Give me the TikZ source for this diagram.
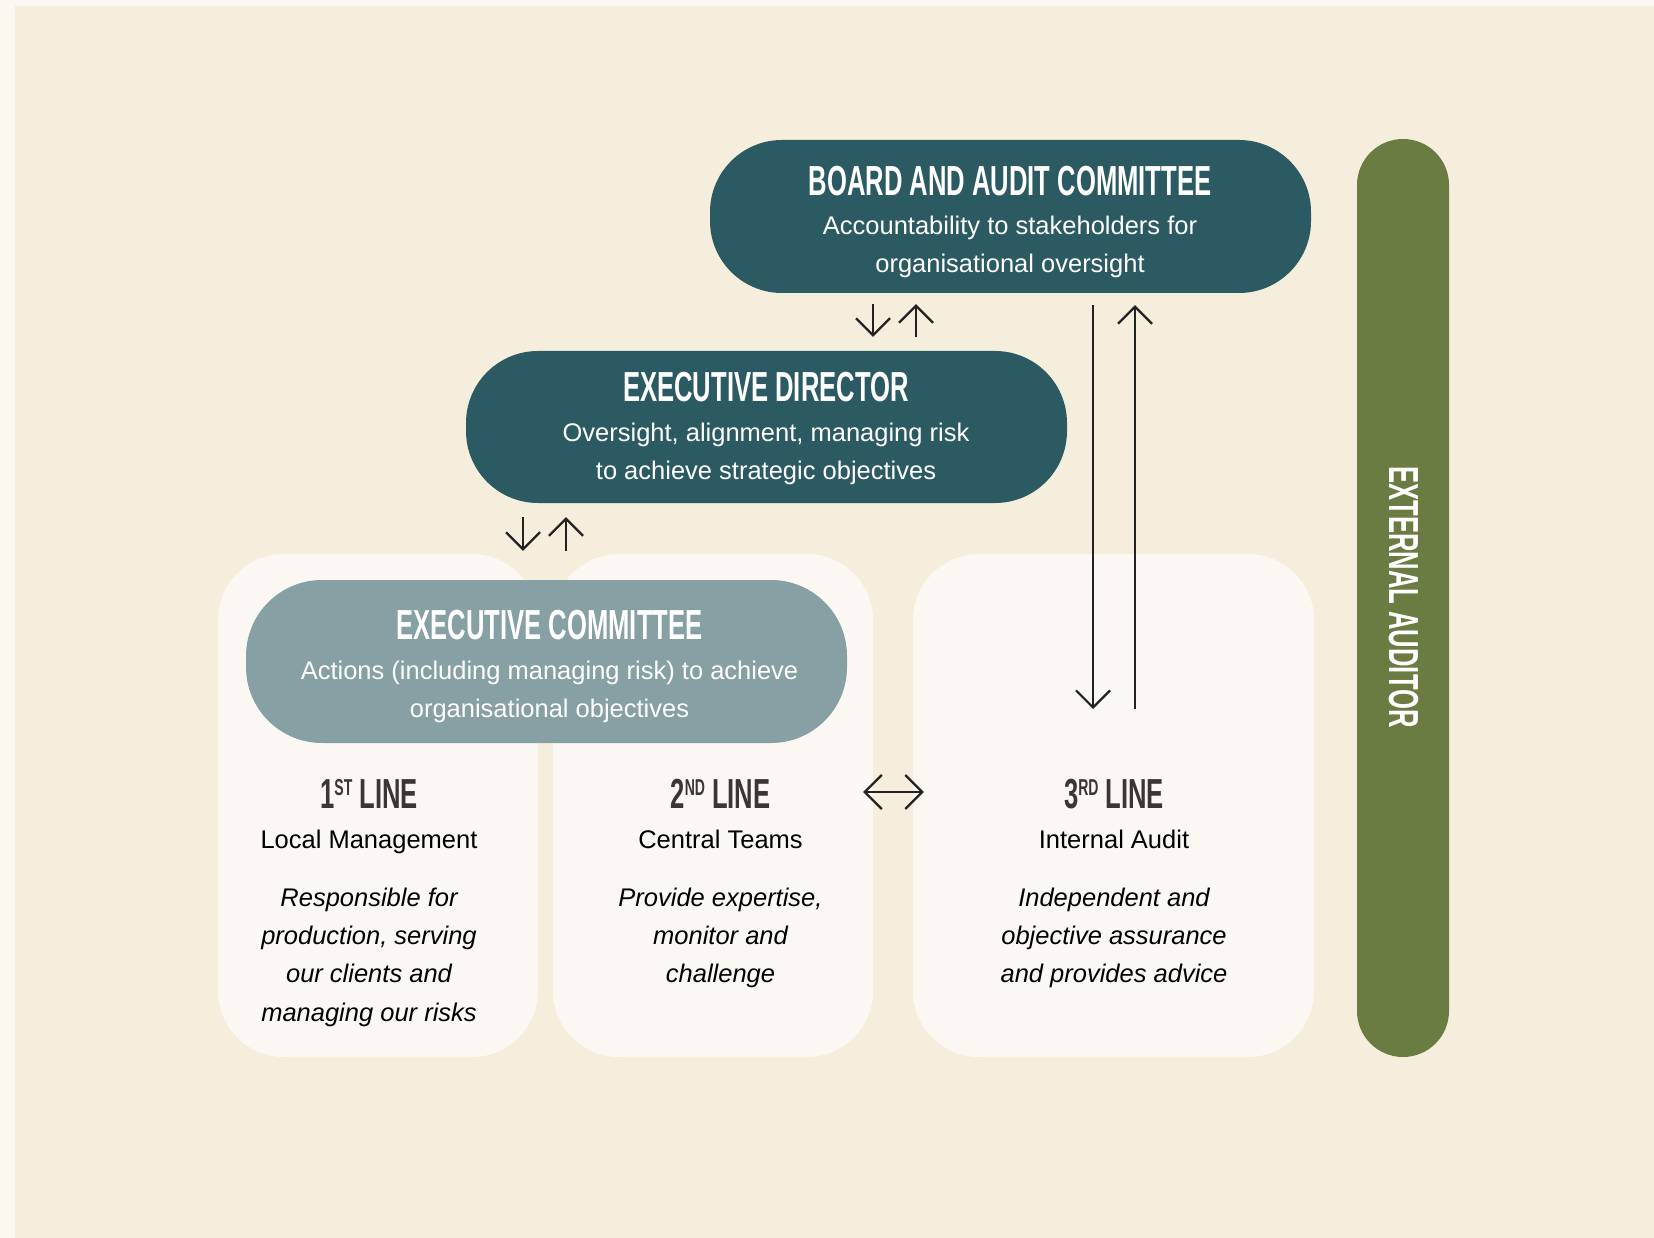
\documentclass[tikz,border=0pt]{standalone}
\usepackage{fontspec}
\setmainfont{Liberation Sans}
\newfontfamily\condfont[FakeStretch=0.61]{Liberation Sans}
\usetikzlibrary{arrows.meta}
\definecolor{pagebg}{HTML}{FBF8F2}
\definecolor{beige}{HTML}{F6EEDC}
\definecolor{cardbg}{HTML}{FBF8F3}
\definecolor{tealdark}{HTML}{2B5A62}
\definecolor{tealgrey}{HTML}{86A0A3}
\definecolor{olive}{HTML}{6A7C42}
\definecolor{headdark}{HTML}{3B3631}
\definecolor{inkline}{HTML}{222222}
\newcommand{\dgbody}{\fontsize{25.5}{38}\selectfont}
\newcommand{\dghead}{\condfont\bfseries\fontsize{42}{42}\selectfont}
\newcommand{\dgsup}[1]{\raisebox{13pt}{\condfont\bfseries\fontsize{23}{23}\selectfont #1}}
\begin{document}
\begin{tikzpicture}[x=1pt,y=-1pt,
  pill/.style={draw=none, inner sep=0pt, rectangle},
  headtxt/.style={anchor=base, inner sep=0pt, font=\dghead},
  bodytxt/.style={anchor=base, inner sep=0pt, font=\dgbody},
  ittxt/.style={anchor=base, inner sep=0pt, font=\dgbody\itshape},
  arr/.style={draw=inkline, line width=2.2pt, -{Straight Barb[length=17pt,width=34pt]}},
  dblarr/.style={draw=inkline, line width=2.2pt, {Straight Barb[length=17pt,width=34pt]}-{Straight Barb[length=17pt,width=34pt]}},
]
\useasboundingbox (0,0) rectangle (1654,1238);
\fill[pagebg] (0,0) rectangle (1654,1238);
\fill[beige] (15,6) rectangle (1654,1238);

% line cards
\node[pill, fill=cardbg, minimum width=320pt, minimum height=503pt, rounded corners=66pt] (line1) at (378,805.5) {};
\node[pill, fill=cardbg, minimum width=320pt, minimum height=503pt, rounded corners=66pt] (line2) at (713,805.5) {};
\node[pill, fill=cardbg, minimum width=401pt, minimum height=503pt, rounded corners=66pt] (line3) at (1113.5,805.5) {};

% pills
\node[pill, fill=tealgrey, minimum width=601pt, minimum height=163pt, rounded corners=76pt] (excom) at (546.5,661.5) {};
\node[pill, fill=tealdark, minimum width=601pt, minimum height=152pt, rounded corners=72pt] (director) at (766.5,427) {};
\node[pill, fill=tealdark, minimum width=601pt, minimum height=153pt, rounded corners=72pt] (board) at (1010.5,216.5) {};
\node[pill, fill=olive, minimum width=92pt, minimum height=918pt, rounded corners=46pt] (extaud) at (1403,598) {};

% texts: board
\node[headtxt, text=white] (boardT) at (1010,196) {BOARD AND AUDIT COMMITTEE};
\node[bodytxt, text=white] (boardL1) at (1010,235) {Accountability to stakeholders for};
\node[bodytxt, text=white] (boardL2) at (1010,273) {organisational oversight};
% director
\node[headtxt, text=white] (dirT) at (766,401) {EXECUTIVE DIRECTOR};
\node[bodytxt, text=white] (dirL1) at (766,441) {Oversight, alignment, managing risk};
\node[bodytxt, text=white] (dirL2) at (766,479) {to achieve strategic objectives};
% executive committee
\node[headtxt, text=white] (excT) at (549.5,639) {EXECUTIVE COMMITTEE};
\node[bodytxt, text=white] (excL1) at (549.5,679) {Actions (including managing risk) to achieve};
\node[bodytxt, text=white] (excL2) at (549.5,717) {organisational objectives};
% 1st line
\node[headtxt, text=headdark] (l1T) at (369,808) {1\dgsup{ST} LINE};
\node[bodytxt, text=black] (l1S) at (369,848) {Local Management};
\node[ittxt, text=black] (l1a) at (369,906) {Responsible for};
\node[ittxt, text=black] (l1b) at (369,944) {production, serving};
\node[ittxt, text=black] (l1c) at (369,982) {our clients and};
\node[ittxt, text=black] (l1d) at (369,1021) {managing our risks};
% 2nd line
\node[headtxt, text=headdark] (l2T) at (720.5,808) {2\dgsup{ND} LINE};
\node[bodytxt, text=black] (l2S) at (720.5,848) {Central Teams};
\node[ittxt, text=black] (l2a) at (720.5,906) {Provide expertise,};
\node[ittxt, text=black] (l2b) at (720.5,944) {monitor and};
\node[ittxt, text=black] (l2c) at (720.5,982) {challenge};
% 3rd line
\node[headtxt, text=headdark] (l3T) at (1114,808) {3\dgsup{RD} LINE};
\node[bodytxt, text=black] (l3S) at (1114,848) {Internal Audit};
\node[ittxt, text=black] (l3a) at (1114,906) {Independent and};
\node[ittxt, text=black] (l3b) at (1114,944) {objective assurance};
\node[ittxt, text=black] (l3c) at (1114,982) {and provides advice};
% external auditor
\node[inner sep=0pt, font=\dghead, text=white, rotate=-90] (extT) at (1403.5,597) {EXTERNAL AUDITOR};

% connectors
\coordinate (auditIn) at (1093,709);
\coordinate (auditOut) at (1135,709);
\draw[arr, shorten <=11pt, shorten >=14pt] ([xshift=-137.5pt]board.south) -- ([xshift=106.5pt]director.north);
\draw[arr, shorten <=14pt, shorten >=11pt] ([xshift=149.5pt]director.north) -- ([xshift=-94.5pt]board.south);
\draw[arr, shorten <=14pt, shorten >=29pt] ([xshift=-243.5pt]director.south) -- ([xshift=-23.5pt]excom.north);
\draw[arr, shorten <=29pt, shorten >=14pt] ([xshift=19.5pt]excom.north) -- ([xshift=-200.5pt]director.south);
\draw[arr, shorten <=12pt] ([xshift=82.5pt]board.south) -- (auditIn);
\draw[arr, shorten >=12pt] (auditOut) -- ([xshift=124.5pt]board.south);
\draw[dblarr, shorten <=-10pt, shorten >=-11pt] ([yshift=13.5pt]line2.east) -- ([yshift=13.5pt]line3.west);
\end{tikzpicture}
\end{document}
